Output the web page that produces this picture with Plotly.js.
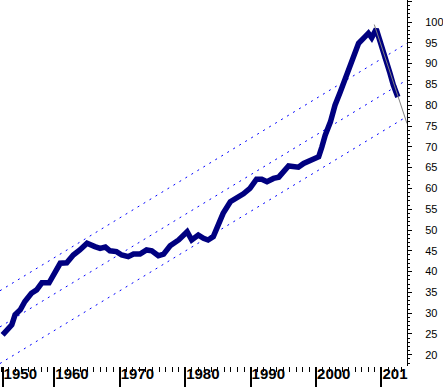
<!DOCTYPE html>
<html><head><meta charset="utf-8">
<script src="https://cdn.plot.ly/plotly-3.0.1.min.js"></script>
<style>html,body{margin:0;padding:0;background:#fff}#chart{width:443px;height:388px}</style>
</head><body><div id="chart"></div>
<script>
const years = [1952.1,1952.7,1953.5,1954.0,1954.8,1955.5,1956.5,1957.3,1958.1,1959.2,1959.8,1960.9,1961.9,1962.9,1963.9,1965.0,1966.2,1967.0,1967.8,1968.5,1969.5,1970.3,1971.3,1972.1,1973.1,1974.1,1974.9,1975.9,1976.7,1977.7,1979.0,1980.3,1981.0,1982.0,1982.8,1983.5,1984.3,1985.1,1985.8,1986.9,1987.9,1988.9,1989.9,1990.9,1991.7,1992.5,1993.5,1994.3,1995.8,1997.3,1998.1,1998.6,1999.6,2000.4,2000.9,2001.4,2002.2,2002.9,2003.7,2004.7,2005.7,2006.5,2007.5,2008.0,2008.5,2009.2,2009.8,2010.6,2011.3,2011.8,2012.5];
const values = [24.8,26.0,27.2,29.6,30.8,32.8,34.8,35.6,37.3,37.3,39.2,42.0,42.1,44.0,45.2,46.8,46.0,45.6,45.9,45.0,44.8,44.0,43.6,44.2,44.2,45.2,45.0,43.8,44.2,46.2,47.6,49.6,47.6,48.8,48.0,47.6,48.4,51.2,54.0,56.8,57.6,58.7,60.0,62.2,62.2,61.6,62.4,62.7,65.4,65.1,66.0,66.4,67.2,67.6,70.0,72.8,76.0,80.0,83.2,87.3,91.3,94.9,96.5,97.3,96.2,98.3,95.3,91.7,87.7,84.9,82.0];
const trendYears = [1951.7, 2013.9];
const trendUpper = [35.4, 94.9];
const trendMid = [26.7, 86.1];
const trendLower = [17.9, 77.3];
const declineYears = [2008.9, 2013.9];
const declineValues = [99.4, 75.6];
const xTickVals = [1952.1, 1960, 1970, 1980, 1990, 2000, 2010];
const xTickText = ['1950', '1960', '1970', '1980', '1990', '2000', '201'];

const dashStyle = {color: '#0000ff', width: 1, dash: '2px,5px'};
const traces = [
  {x: trendYears, y: trendUpper, mode: 'lines', line: dashStyle, hoverinfo: 'skip'},
  {x: trendYears, y: trendMid, mode: 'lines', line: dashStyle, hoverinfo: 'skip'},
  {x: trendYears, y: trendLower, mode: 'lines', line: dashStyle, hoverinfo: 'skip'},
  {x: years, y: values, mode: 'lines', line: {color: '#000080', width: 5.5}},
  {x: declineYears, y: declineValues, mode: 'lines', line: {color: '#808080', width: 1}}
];
const layout = {
  width: 443, height: 388,
  margin: {l: 0, r: 36, t: 0, b: 22, pad: 0},
  paper_bgcolor: '#ffffff', plot_bgcolor: '#ffffff',
  showlegend: false,
  xaxis: {
    range: [1951.7, 2013.9], showgrid: false, zeroline: false, showline: false,
    tickmode: 'array', tickvals: xTickVals, ticktext: xTickText,
    ticks: 'outside', ticklen: 20, tickwidth: 2, tickcolor: '#000',
    ticklabelposition: 'outside right', ticklabelstandoff: -6,
    tickfont: {family: 'Liberation Sans, Arial, sans-serif', size: 15, color: '#000', weight: 'bold'},
    minor: {tickmode: 'linear', tick0: 1950, dtick: 1, ticks: 'outside', ticklen: 5, tickwidth: 1, tickcolor: '#000', showgrid: false}
  },
  yaxis: {
    range: [17.3, 105.3], side: 'right', showgrid: false, zeroline: false,
    showline: true, linecolor: '#000', linewidth: 1,
    tickmode: 'linear', tick0: 0, dtick: 5,
    ticks: 'outside', ticklen: 4, tickwidth: 1, tickcolor: '#000',
    ticklabelstandoff: 11,
    tickfont: {family: 'Liberation Sans, Arial, sans-serif', size: 11, color: '#000'},
    minor: {tickmode: 'linear', tick0: 0, dtick: 1, ticks: 'outside', ticklen: 2, tickwidth: 1, tickcolor: '#000', showgrid: false}
  }
};
Plotly.newPlot('chart', traces, layout, {staticPlot: true, displayModeBar: false});
</script></body></html>
